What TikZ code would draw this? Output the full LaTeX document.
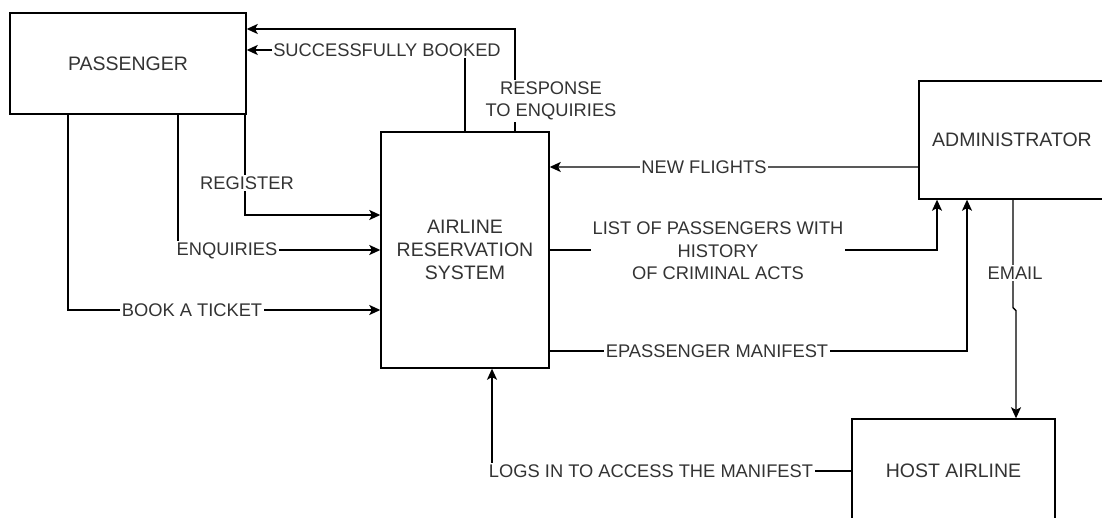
\documentclass[tikz,border=0pt]{standalone}
\usepackage{fontspec}
\setmainfont{Liberation Sans}
\usepackage{tikz}
\usetikzlibrary{arrows.meta}
\newcommand{\boxfont}{\fontsize{19.5bp}{23bp}\selectfont}
\newcommand{\flowfont}{\fontsize{18.3bp}{22.5bp}\selectfont}

\begin{document}
\begin{tikzpicture}[
  x=1bp, y=-1bp,
  entity/.style={draw, line width=1.4bp, inner sep=0pt, align=center, text=black!80, font=\boxfont},
  flow/.style={-{Stealth[length=11bp, width=10bp, inset=2.5bp]}, line width=1.4bp},
  flowlbl/.style={fill=white, inner sep=1.5bp, align=center, text=black!80, font=\flowfont}
]
\useasboundingbox (0,0) rectangle (1102,518);
% entities
\node[entity, minimum width=236bp, minimum height=101bp] (pass) at (128,63.5) {PASSENGER};
\node[entity, minimum width=168bp, minimum height=236bp] (ars) at (465,250) {AIRLINE\\RESERVATION\\SYSTEM};
\node[entity, minimum width=186bp, minimum height=118bp] (admin) at (1012,140) {ADMINISTRATOR};
\node[entity, minimum width=203bp, minimum height=104bp] (host) at (953.5,471) {HOST AIRLINE};
% flows from the system back to the passenger
\draw[flow] ([xshift=50bp]ars.north) |- ([yshift=34.5bp]pass.east);
\draw[flow] (ars.north) |- ([yshift=13.5bp]pass.east);
% flows from the passenger
\draw[flow] ([xshift=117bp]pass.south) |- ([yshift=35bp]ars.west);
\draw[flow] ([xshift=50bp]pass.south) |- (ars.west);
\draw[flow] ([xshift=-60bp]pass.south) |- ([yshift=-60bp]ars.west);
% administrator
\draw[flow] ([yshift=-27bp]admin.west) -- ([yshift=83bp]ars.east);
\draw[flow] (ars.east) -| ([xshift=-75bp]admin.south);
\draw[flow] ([yshift=-101bp]ars.east) -| ([xshift=-45bp]admin.south);
\draw[flow] ([xshift=1bp]admin.south) -- ++(0,108) -- ++(3,3) -- ([xshift=62.5bp]host.north);
% host airline
\draw[flow] (host.west) -| ([xshift=27bp]ars.south);
% labels
\node[flowlbl] (lresp) at (551,101) {RESPONSE\\TO ENQUIRIES};
\node[flowlbl] (lsucc) at (387,50) {SUCCESSFULLY BOOKED};
\node[flowlbl] (lreg) at (247,183) {REGISTER};
\node[flowlbl] (lenq) at (227,251) {ENQUIRIES};
\node[flowlbl] (lbook) at (192,310) {BOOK A TICKET};
\node[flowlbl] (lnew) at (704,167) {NEW FLIGHTS};
\node[flowlbl] (llist) at (718,251) {LIST OF PASSENGERS WITH\\HISTORY\\OF CRIMINAL ACTS};
\node[flowlbl] (lepass) at (717,351) {EPASSENGER MANIFEST};
\node[flowlbl] (lemail) at (1015,273) {EMAIL};
\node[flowlbl] (llogs) at (651,471) {LOGS IN TO ACCESS THE MANIFEST};
\end{tikzpicture}
\end{document}
